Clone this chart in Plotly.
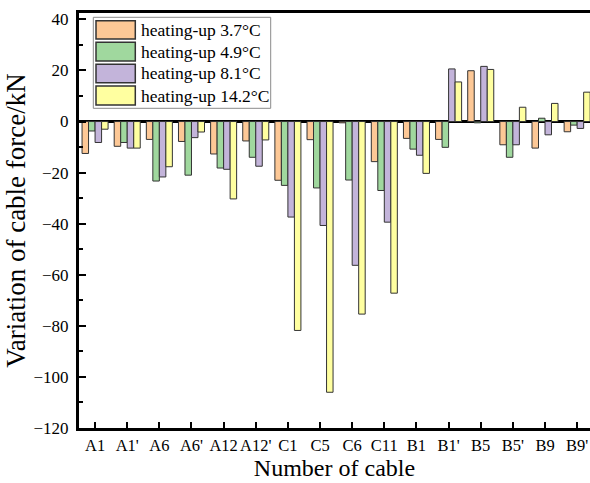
import plotly.graph_objects as go

cables = ["A1", "A1'", "A6", "A6'", "A12", "A12'", "C1", "C5", "C6", "C11",
          "B1", "B1'", "B5", "B5'", "B9", "B9'"]
series_names = ["heating-up 3.7°C", "heating-up 4.9°C", "heating-up 8.1°C", "heating-up 14.2°C"]
dT_3_7 = [-12.5, -9.7, -7.0, -7.8, -12.7, -7.6, -23.0, -7.1, -0.5, -15.7,
          -6.6, -7.0, 19.9, -9.1, -10.4, -4.0]
dT_4_9 = [-3.7, -8.2, -23.3, -21.0, -18.2, -14.0, -25.0, -26.0, -22.9, -27.0,
          -10.8, -10.1, -0.5, -14.0, 1.3, -1.4]
dT_8_1 = [-8.2, -10.4, -21.7, -6.3, -18.7, -17.5, -37.4, -40.7, -56.3, -39.4,
          -13.2, 20.6, 21.6, -9.1, -5.2, -2.7]
dT_14_2 = [-3.0, -10.4, -17.7, -4.1, -30.3, -7.2, -81.8, -106.0, -75.4, -67.2,
           -20.3, 15.5, 20.4, 5.6, 7.1, 11.5]
y_ticks = [40, 20, 0, -20, -40, -60, -80, -100, -120]

colors = ["#FDC896", "#A0D89E", "#C3B4DA", "#FFFFA0"]
series = [dT_3_7, dT_4_9, dT_8_1, dT_14_2]

FONT = "Liberation Serif, Times New Roman, serif"

fig = go.Figure()
for name, vals, c in zip(series_names, series, colors):
    fig.add_trace(go.Bar(
        x=list(range(len(cables))), y=vals, name=name,
        marker=dict(color=c, line=dict(color="#333333", width=1)),
        showlegend=False,
    ))

# plot area in pixels
L, R, T, B = 79, 590, 13, 428
W, H = R - L, B - T

def px(x):
    return (x - L) / W

def py(y):
    return (B - y) / H

shapes = []
annotations = []
# legend box
shapes.append(dict(type="rect", xref="paper", yref="paper",
                   x0=px(93.3), x1=px(270.7), y0=py(108.3), y1=py(17.3),
                   line=dict(color="#8a8a8a", width=1), fillcolor="white", layer="above"))
rows = [(20.7, 39), (42.3, 61), (64.3, 82.7), (86, 105)]
for (y0, y1), c, name in zip(rows, colors, series_names):
    shapes.append(dict(type="rect", xref="paper", yref="paper",
                       x0=px(96), x1=px(135.3), y0=py(y1), y1=py(y0),
                       line=dict(color="#333333", width=1.5), fillcolor=c, layer="above"))
    annotations.append(dict(xref="paper", yref="paper", x=px(139), y=py((y0 + y1) / 2),
                            text=name, showarrow=False, xanchor="left", yanchor="middle",
                            font=dict(family=FONT, size=17.5, color="black")))

fig.update_layout(
    width=590, height=483,
    margin=dict(l=L, r=590 - R, t=T, b=483 - B, autoexpand=False),
    paper_bgcolor="white", plot_bgcolor="white",
    barmode="group", bargap=0.19, bargroupgap=0,
    font=dict(family=FONT, size=17, color="black"),
    shapes=shapes, annotations=annotations,
    xaxis=dict(
        range=[-0.5, 15.4], tickmode="array", tickvals=list(range(len(cables))),
        ticktext=cables, ticks="inside", ticklen=6, tickwidth=2, tickcolor="black",
        tickangle=0, automargin=False,
        showline=True, linecolor="black", linewidth=3, mirror=True,
        showgrid=False, zeroline=False,
        tickfont=dict(family=FONT, size=16.5),
        title=dict(text="Number of cable", font=dict(family=FONT, size=24), standoff=2),
    ),
    yaxis=dict(
        range=[-120, 42.5], tickmode="array", tickvals=y_ticks,
        ticks="inside", ticklen=7, tickwidth=2, tickcolor="black", automargin=False,
        minor=dict(ticks="inside", ticklen=4, tickwidth=2, tickcolor="black", dtick=10,
                   tick0=0, showgrid=False),
        showline=True, linecolor="black", linewidth=3, mirror=False,
        showgrid=False, zeroline=True, zerolinecolor="black", zerolinewidth=3,
        tickfont=dict(family=FONT, size=17), ticklabelstandoff=4,
        title=dict(text="Variation of cable force/kN", font=dict(family=FONT, size=27), standoff=1),
    ),
)

fig.write_html("out.html")
